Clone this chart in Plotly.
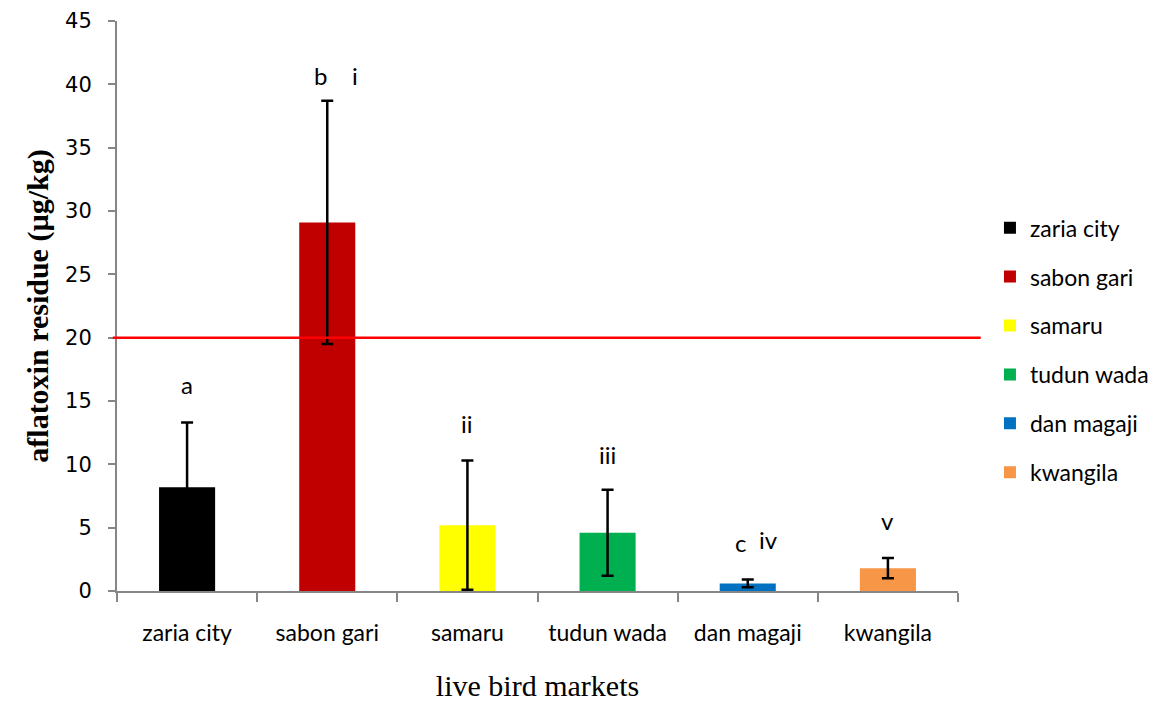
import plotly.graph_objects as go

# Mean aflatoxin residue per live bird market, with standard deviation
markets = ["zaria city", "sabon gari", "samaru", "tudun wada", "dan magaji", "kwangila"]
residue = [8.2, 29.1, 5.2, 4.6, 0.6, 1.8]
std_dev = [5.1, 9.6, 5.1, 3.4, 0.3, 0.8]
colors = ["#000000", "#C00000", "#FFFF00", "#00B050", "#0070C0", "#F79646"]

# Significance letters placed above the bars
sig_labels = ["a", "b", "i", "ii", "iii", "c", "iv", "v"]
sig_market = ["zaria city", "sabon gari", "sabon gari", "samaru", "tudun wada",
              "dan magaji", "dan magaji", "kwangila"]
sig_shift = [0, -0.05, 0.2, 0, 0, -0.05, 0.15, 0]
sig_y = [16.3, 40.7, 40.7, 13.2, 10.8, 3.8, 4.1, 5.6]

limit = 20  # maximum permissible level (µg/kg)

fig = go.Figure()
for m, v, s, c in zip(markets, residue, std_dev, colors):
    fig.add_trace(go.Bar(
        x=[m], y=[v], name=m, legendgroup=m,
        marker=dict(color=c, line=dict(width=0)),
        width=0.4,
        error_y=dict(type="data", array=[s], visible=True,
                     color="black", thickness=2.5, width=6),
    ))

idx = {m: i for i, m in enumerate(markets)}
for lab, m, dx, yv in zip(sig_labels, sig_market, sig_shift, sig_y):
    fig.add_annotation(x=idx[m] + dx, y=yv, text=lab, showarrow=False,
                       xref="x", yref="y",
                       font=dict(family="Lato", size=24, color="black"))

fig.add_shape(type="line", xref="paper", yref="y",
              x0=-0.005, x1=1.027, y0=limit, y1=limit,
              line=dict(color="#FF0000", width=2.5))

fig.update_layout(
    width=1159, height=704,
    margin=dict(l=117, r=201, t=21, b=113, autoexpand=False),
    plot_bgcolor="white", paper_bgcolor="white",
    barmode="overlay",
    showlegend=True,
    legend=dict(x=1.038, y=0.675, xanchor="left", yanchor="top",
                font=dict(family="Lato", size=23, color="black"),
                tracegroupgap=16, itemwidth=30),
    xaxis=dict(
        type="category", categoryorder="array", categoryarray=markets,
        showline=True, linecolor="#868686", linewidth=2,
        ticks="outside", tickson="boundaries", ticklen=9,
        tickcolor="#868686", tickwidth=2,
        tickfont=dict(family="Lato", size=23, color="black"),
        ticklabelstandoff=20,
        title=dict(text="live bird markets", standoff=30,
                   font=dict(family="Liberation Serif", size=30, color="black")),
        showgrid=False, zeroline=False, automargin=False,
    ),
    yaxis=dict(
        range=[0, 45], dtick=5, tick0=0,
        showline=True, linecolor="#868686", linewidth=2,
        ticks="outside", ticklen=7, tickcolor="#868686", tickwidth=2,
        tickfont=dict(family="DejaVu Sans", size=21, color="black"),
        ticklabelstandoff=12,
        title=dict(text="<b>aflatoxin residue (µg/kg)</b>", standoff=8,
                   font=dict(family="Liberation Serif", size=30, color="black")),
        showgrid=False, zeroline=False, automargin=False,
    ),
)

fig.write_html("out.html")
